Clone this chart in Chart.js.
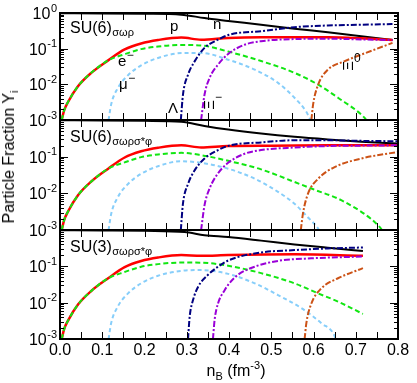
<!DOCTYPE html>
<html>
<head>
<meta charset="utf-8">
<script src="https://cdn.jsdelivr.net/npm/chart.js@4.4.0/dist/chart.umd.min.js"></script>
<style>
  body { margin: 0; background: #fff; }
  #wrap { position: relative; width: 417px; height: 383px; font-family: 'Liberation Sans', Arial, sans-serif; color: #000; }
  .panel { position: absolute; left: 0; width: 417px; }
  .panel canvas { display: block; }
  #ytitle { position: absolute; left: 9px; top: 157px; transform: translate(-50%, -50%) rotate(-90deg); font-size: 16px; white-space: nowrap; }
  #xtitle { position: absolute; left: 236px; top: 371px; transform: translate(-50%, -50%); font-size: 16px; white-space: nowrap; }
  .sb { font-size: 11px; position: relative; top: 4px; }
  .sp { font-size: 11px; position: relative; top: -7px; }
</style>
</head>
<body>
<div id="wrap">
  <div class="panel" style="top:0px"><canvas id="c1" width="417" height="130"></canvas></div>
  <div class="panel" style="top:112px"><canvas id="c2" width="417" height="128"></canvas></div>
  <div class="panel" style="top:222px"><canvas id="c3" width="417" height="161"></canvas></div>
  <div id="ytitle">Particle Fraction Y<span class="sb">i</span></div>
  <div id="xtitle">n<span class="sb">B</span> (fm<span class="sp">-3</span>)</div>
</div>
<script>
const FONT = "'Liberation Sans', Arial, sans-serif";

// x axis (baryon density) and y axis decades
const xTickValues = [0, 0.1, 0.2, 0.3, 0.4, 0.5, 0.6, 0.7, 0.8];
const xTickLabels = ['0.0', '0.1', '0.2', '0.3', '0.4', '0.5', '0.6', '0.7', '0.8'];
const yDecades = [1, 0.1, 0.01, 0.001];
const yDecadeExp = ['0', '-1', '-2', '-3'];

// common low density part (same in all three models)
const pLow = [[0.004, 0.001], [0.01, 0.0019], [0.019, 0.0032], [0.043, 0.009], [0.074, 0.021], [0.114, 0.047]];
const pMid = [[0.153, 0.095], [0.192, 0.14], [0.232, 0.175], [0.287, 0.205]];
const eMid = [[0.153, 0.07], [0.192, 0.097], [0.232, 0.115], [0.287, 0.127]];
const muLow = [[0.115, 0.001], [0.121, 0.0027], [0.137, 0.0079], [0.161, 0.018], [0.192, 0.034], [0.232, 0.055], [0.287, 0.075]];

// SU(6) sigma omega rho
const a_n = [[0, 0.99], [0.1, 0.975], [0.2, 0.95], [0.287, 0.9], [0.342, 0.72], [0.398, 0.6], [0.476, 0.47], [0.555, 0.363], [0.634, 0.288], [0.713, 0.224], [0.787, 0.174]];
const a_p = [...pLow, ...pMid, [0.334, 0.178], [0.398, 0.2], [0.476, 0.209], [0.555, 0.209], [0.634, 0.209], [0.713, 0.195], [0.787, 0.174]];
const a_e = [...pLow, ...eMid, [0.334, 0.123], [0.398, 0.083], [0.476, 0.045], [0.555, 0.021], [0.611, 0.0098], [0.658, 0.0042], [0.721, 0.00115], [0.725, 0.001]];
const a_mu = [...muLow, [0.334, 0.076], [0.398, 0.049], [0.461, 0.0257], [0.516, 0.011], [0.555, 0.0042], [0.583, 0.0017], [0.593, 0.001]];
const a_L = [[0.286, 0.001], [0.291, 0.0051], [0.303, 0.0186], [0.319, 0.0447], [0.342, 0.105], [0.374, 0.178], [0.4, 0.245], [0.476, 0.31], [0.555, 0.4], [0.634, 0.447], [0.713, 0.468], [0.787, 0.49]];
const a_Xm = [[0.334, 0.001], [0.342, 0.0051], [0.354, 0.0151], [0.374, 0.0355], [0.398, 0.071], [0.437, 0.129], [0.476, 0.162], [0.555, 0.186], [0.634, 0.19], [0.713, 0.182], [0.787, 0.174]];
const a_X0 = [[0.595, 0.001], [0.599, 0.0027], [0.611, 0.0098], [0.634, 0.0257], [0.674, 0.0447], [0.713, 0.068], [0.787, 0.145]];

// SU(6) sigma omega rho sigma* phi
const b_n = [[0, 0.99], [0.1, 0.975], [0.2, 0.95], [0.287, 0.9], [0.342, 0.69], [0.398, 0.55], [0.476, 0.427], [0.555, 0.347], [0.634, 0.295], [0.713, 0.257], [0.8, 0.229]];
const b_p = [...pLow, ...pMid, [0.334, 0.178], [0.398, 0.195], [0.5, 0.198], [0.634, 0.204], [0.8, 0.204]];
const b_e = [...pLow, ...eMid, [0.334, 0.11], [0.398, 0.077], [0.476, 0.045], [0.555, 0.0204], [0.595, 0.0135], [0.674, 0.0058], [0.757, 0.0012], [0.762, 0.001]];
const b_mu = [...muLow, [0.334, 0.068], [0.398, 0.047], [0.461, 0.025], [0.516, 0.011], [0.555, 0.0052], [0.587, 0.0022], [0.611, 0.0011], [0.613, 0.001]];
const b_L = [[0.286, 0.001], [0.291, 0.0052], [0.303, 0.018], [0.319, 0.043], [0.342, 0.089], [0.374, 0.151], [0.4, 0.2], [0.476, 0.245], [0.555, 0.28], [0.634, 0.28], [0.713, 0.27], [0.8, 0.263]];
const b_Xm = [[0.334, 0.001], [0.342, 0.0047], [0.354, 0.0135], [0.374, 0.035], [0.398, 0.068], [0.437, 0.12], [0.476, 0.151], [0.555, 0.178], [0.634, 0.195], [0.713, 0.2], [0.8, 0.204]];
const b_X0 = [[0.57, 0.001], [0.575, 0.0028], [0.587, 0.0098], [0.611, 0.025], [0.65, 0.052], [0.713, 0.089], [0.8, 0.135]];

// SU(3) sigma omega rho sigma* phi
const c_n = [[0, 0.99], [0.1, 0.975], [0.2, 0.95], [0.295, 0.88], [0.342, 0.72], [0.398, 0.64], [0.476, 0.51], [0.555, 0.4], [0.634, 0.324], [0.717, 0.263]];
const c_p = [...pLow, ...pMid, [0.334, 0.195], [0.398, 0.204], [0.555, 0.214], [0.717, 0.195]];
const c_e = [...pLow, ...eMid, [0.334, 0.126], [0.398, 0.104], [0.476, 0.065], [0.555, 0.034], [0.611, 0.018], [0.658, 0.0107], [0.717, 0.0049]];
const c_mu = [...muLow, [0.334, 0.079], [0.398, 0.062], [0.461, 0.034], [0.516, 0.0162], [0.571, 0.0071], [0.619, 0.0027], [0.65, 0.0012], [0.652, 0.001]];
const c_L = [[0.303, 0.001], [0.307, 0.0042], [0.315, 0.012], [0.327, 0.0275], [0.35, 0.058], [0.374, 0.098], [0.398, 0.145], [0.476, 0.24], [0.555, 0.28], [0.634, 0.31], [0.717, 0.33]];
const c_Xm = [[0.362, 0.001], [0.366, 0.0034], [0.374, 0.0095], [0.39, 0.0224], [0.398, 0.031], [0.421, 0.058], [0.461, 0.098], [0.516, 0.141], [0.595, 0.166], [0.717, 0.186]];
const c_X0 = [[0.579, 0.001], [0.583, 0.0027], [0.595, 0.0095], [0.619, 0.025], [0.658, 0.047], [0.717, 0.089]];

// line styles per particle (first in list is drawn on top)
const styles = {
  X0: { color: '#cc5216', dash: [6, 2, 2, 2], w: 2 },
  Xm: { color: '#9a00d8', dash: [6, 2, 2, 2], w: 2 },
  L:  { color: '#000080', dash: [6, 2, 2, 2], w: 2 },
  mu: { color: '#87cefa', dash: [4, 3], w: 2 },
  e:  { color: '#11e611', dash: [5, 3], w: 2 },
  p:  { color: '#ff0000', dash: [], w: 2.5 },
  n:  { color: '#000000', dash: [], w: 2 }
};

function buildDatasets(curves) {
  return Object.keys(styles).map(k => ({
    data: curves[k].map(pt => ({ x: pt[0], y: pt[1] })),
    borderColor: styles[k].color,
    borderDash: styles[k].dash,
    borderWidth: styles[k].w,
    pointRadius: 0,
    fill: false,
    cubicInterpolationMode: 'monotone'
  }));
}

// text with a raised or lowered small part
function richText(ctx, base, small, x, y, size, smallSize, dy) {
  ctx.font = size + 'px ' + FONT;
  ctx.textAlign = 'left';
  ctx.textBaseline = 'alphabetic';
  ctx.fillText(base, x, y);
  const w = ctx.measureText(base).width;
  ctx.font = smallSize + 'px ' + FONT;
  ctx.fillText(small, x + w + 0.5, y + dy);
}

// Xi drawn rotated like in the original figure
function rotXi(ctx, sup, cx, cy) {
  ctx.save();
  ctx.translate(cx, cy);
  ctx.rotate(-Math.PI / 2);
  ctx.font = '15px ' + FONT;
  ctx.textAlign = 'center';
  ctx.textBaseline = 'middle';
  ctx.fillText('Ξ', 0, 0);
  ctx.restore();
  ctx.font = '12px ' + FONT;
  ctx.textAlign = 'left';
  ctx.textBaseline = 'alphabetic';
  ctx.fillText(sup, cx + 5, cy - 4);
}

const framePlugin = {
  id: 'frame',
  afterDatasetsDraw(chart, args, opts) {
    const { ctx, chartArea: a, scales: { x, y } } = chart;
    ctx.save();
    ctx.strokeStyle = '#000';
    ctx.fillStyle = '#000';
    ctx.lineWidth = 1;
    ctx.beginPath();
    for (let i = 0; i <= 16; i++) {
      const px = Math.round(x.getPixelForValue(i * 0.05)) + 0.5;
      ctx.moveTo(px, a.bottom); ctx.lineTo(px, a.bottom - 7);
      ctx.moveTo(px, a.top); ctx.lineTo(px, a.top + 7);
    }
    for (let e = -3; e <= 0; e++) {
      for (let m = 1; m <= 9; m++) {
        const v = m * Math.pow(10, e);
        if (v > 1.0001) break;
        const py = Math.round(y.getPixelForValue(v)) + 0.5;
        const len = m === 1 ? 8 : 4;
        ctx.moveTo(a.left, py); ctx.lineTo(a.left + len, py);
        ctx.moveTo(a.right, py); ctx.lineTo(a.right - len, py);
      }
    }
    ctx.stroke();
    ctx.lineWidth = 2;
    ctx.strokeRect(a.left, a.top, a.right - a.left, a.bottom - a.top);

    // y tick labels 10^k
    yDecades.forEach((v, i) => {
      if (!opts.yLabels.includes(v)) return;
      const py = y.getPixelForValue(v);
      const exp = yDecadeExp[i];
      ctx.font = '11px ' + FONT;
      const sw = ctx.measureText(exp).width;
      ctx.textAlign = 'left';
      ctx.textBaseline = 'alphabetic';
      ctx.fillText(exp, 57 - sw, py - 1.5);
      ctx.font = '16px ' + FONT;
      ctx.textAlign = 'right';
      ctx.fillText('10', 57 - sw - 0.5, py + 6);
    });

    // x tick labels on the bottom panel
    if (opts.xLabels) {
      ctx.font = '16px ' + FONT;
      ctx.textAlign = 'center';
      ctx.textBaseline = 'alphabetic';
      xTickValues.forEach((v, i) => {
        ctx.fillText(xTickLabels[i], x.getPixelForValue(v), a.bottom + 16);
      });
    }

    // model name
    richText(ctx, opts.model[0], opts.model[1], 70, a.top + opts.modelDy, 16, 11, 2.5);

    // curve names (top panel only)
    if (opts.names) {
      ctx.font = '15px ' + FONT;
      ctx.textAlign = 'left';
      ctx.fillText('p', 170, 31);
      ctx.fillText('n', 213, 29);
      ctx.fillText('Λ', 168, 113);
      richText(ctx, 'e', '−', 118, 66, 15, 12, -7);
      richText(ctx, 'μ', '−', 119, 89, 15, 12, -7);
      rotXi(ctx, '−', 210, 105);
      rotXi(ctx, '0', 349, 66);
    }
    ctx.restore();
  }
};

function makePanel(id, curves, pad, opts) {
  new Chart(document.getElementById(id), {
    type: 'line',
    data: { datasets: buildDatasets(curves) },
    options: {
      responsive: false,
      animation: false,
      devicePixelRatio: 1,
      layout: { padding: { left: 60, right: 19, top: pad[0], bottom: pad[1] } },
      scales: {
        x: { type: 'linear', min: 0, max: 0.8, display: false },
        y: { type: 'logarithmic', min: 0.001, max: 1, display: false }
      },
      plugins: { legend: { display: false }, tooltip: { enabled: false }, frame: opts }
    },
    plugins: [framePlugin]
  });
}

// chart areas: 13-120, 120-230, 230-339 (page pixels)
makePanel('c1', { n: a_n, p: a_p, e: a_e, mu: a_mu, L: a_L, Xm: a_Xm, X0: a_X0 }, [13, 10],
  { yLabels: [1, 0.1, 0.01, 0.001], xLabels: false, model: ['SU(6)', 'σωρ'], modelDy: 20, names: true });
makePanel('c2', { n: b_n, p: b_p, e: b_e, mu: b_mu, L: b_L, Xm: b_Xm, X0: b_X0 }, [8, 10],
  { yLabels: [0.1, 0.01, 0.001], xLabels: false, model: ['SU(6)', 'σωρσ*φ'], modelDy: 22, names: false });
makePanel('c3', { n: c_n, p: c_p, e: c_e, mu: c_mu, L: c_L, Xm: c_Xm, X0: c_X0 }, [8, 44],
  { yLabels: [0.1, 0.01, 0.001], xLabels: true, model: ['SU(3)', 'σωρσ*φ'], modelDy: 22, names: false });
</script>
</body>
</html>
